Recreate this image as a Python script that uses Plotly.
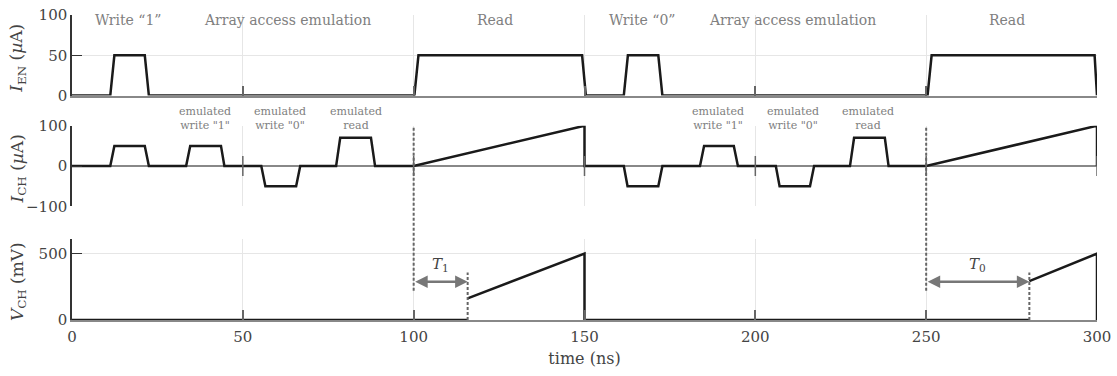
import plotly.graph_objects as go

# ---- waveform data (time in ns) ----
t_en = [0, 11.2, 12.4, 21.3, 22.5, 100.2, 101.4, 149.3, 150.4,
        161.5, 162.7, 171.6, 172.8, 250.4, 251.6, 299.3, 300]
i_en = [0, 0, 50, 50, 0, 0, 50, 50, 0,
        0, 50, 50, 0, 0, 50, 50, 0]

t_ch = [0, 11.2, 12.4, 21.3, 22.5, 33.4, 34.6, 43.6, 44.6,
        55.4, 56.6, 65.6, 66.8, 77.3, 78.5, 87.5, 88.7,
        100, 150, 150,
        161.5, 162.6, 171.6, 172.8, 183.8, 185, 193.7, 194.9,
        206, 207.1, 216, 217.2, 227.7, 228.9, 237.9, 239,
        250, 300, 300]
i_ch = [0, 0, 50, 50, 0, 0, 50, 50, 0,
        0, -50, -50, 0, 0, 70, 70, 0,
        0, 100, 0,
        0, -50, -50, 0, 0, 50, 50, 0,
        0, -50, -50, 0, 0, 70, 70, 0,
        0, 100, 0]

t_v = [0, 115.8, None, 115.8, 150, 150, 280.2, None, 280.2, 300, 300]
v_ch = [0, 0, None, 163, 500, 0, 0, None, 293, 500, 0]

# sense-time markers
t_start = [100, 250]
t_trip = [115.8, 280.2]
t_names = ["1", "0"]

# phase labels across the top panel
phase_x = [16.5, 63, 123.7, 167, 211, 273.8]
phase_txt = ["Write “1”", "Array access emulation", "Read",
             "Write “0”", "Array access emulation", "Read"]

# labels above the channel-current pulses
emu_x = [39, 61, 83, 189, 211, 233]
emu_txt = ['emulated<br>write "1"', 'emulated<br>write "0"', 'emulated<br>read'] * 2

x_ticks = [0, 50, 100, 150, 200, 250, 300]

FONT = "DejaVu Serif"
LINE = dict(color="#1a1a1a", width=2.5)
GRID = "#e6e6e6"
LABEL_GRAY = "#808080"

fig = go.Figure()
fig.add_trace(go.Scatter(x=t_en, y=i_en, mode="lines", line=LINE, xaxis="x", yaxis="y"))
fig.add_trace(go.Scatter(x=t_ch, y=i_ch, mode="lines", line=LINE, xaxis="x2", yaxis="y2"))
fig.add_trace(go.Scatter(x=t_v, y=v_ch, mode="lines", line=LINE, xaxis="x3", yaxis="y3",
                         connectgaps=False))

xcommon = dict(range=[0, 300], tickvals=x_ticks, showgrid=True, gridcolor=GRID,
               gridwidth=1, zeroline=False,
               tickfont=dict(family=FONT, size=15, color="#444"))
ycommon = dict(showgrid=True, gridcolor=GRID, gridwidth=1, showline=True,
               linecolor="#333", linewidth=1.5, ticks="inside", ticklen=10,
               tickcolor="#333", tickwidth=1.2,
               tickfont=dict(family=FONT, size=15, color="#444"))

fig.update_layout(
    width=1117, height=376,
    margin=dict(l=72, r=20, t=6, b=56),
    paper_bgcolor="white", plot_bgcolor="white",
    showlegend=False,
    xaxis=dict(**xcommon, anchor="y", showticklabels=False, showline=True,
               linecolor="#888", linewidth=1.5, ticks="inside", ticklen=10,
               tickcolor="#666", tickwidth=1.5),
    xaxis2=dict(**xcommon, anchor="y2", matches="x", showticklabels=False,
                showline=False, ticks=""),
    xaxis3=dict(**xcommon, anchor="y3", matches="x", showticklabels=True,
                showline=True, linecolor="#888", linewidth=1.5, ticks="inside",
                ticklen=10, tickcolor="#666", tickwidth=1.5,
                ticklabelstandoff=2,
                title=dict(text="time (ns)", standoff=8,
                           font=dict(family=FONT, size=16, color="#444"))),
    yaxis=dict(**ycommon, domain=[0.7357, 1.0], range=[0, 100],
               tickvals=[0, 50, 100], zeroline=False),
    yaxis2=dict(**ycommon, domain=[0.3726, 0.6369], range=[-100, 100],
                tickvals=[-100, 0, 100], zeroline=True, zerolinecolor="#888",
                zerolinewidth=1.5),
    yaxis3=dict(**ycommon, domain=[0.0, 0.2643], range=[0, 607],
                tickvals=[0, 500], zeroline=False),
)

shapes = []
# tick marks crossing the channel-current zero line
for xv in x_ticks[1:]:
    shapes.append(dict(type="line", xref="x2", yref="y2", x0=xv, x1=xv,
                       ysizemode="pixel", yanchor=0, y0=-10, y1=10,
                       line=dict(color="#666", width=1.5)))
# read-start markers spanning channel current and voltage panels
for xs in t_start:
    shapes.append(dict(type="line", xref="x3", yref="paper", x0=xs, x1=xs,
                       y0=0.0955, y1=0.6369,
                       line=dict(color="#666", width=2, dash="3px,2px")))
# threshold-crossing markers
for xt in t_trip:
    shapes.append(dict(type="line", xref="x3", yref="y3", x0=xt, x1=xt,
                       y0=0, y1=357,
                       line=dict(color="#666", width=2, dash="3px,2px")))
fig.update_layout(shapes=shapes)

ann = []
for xp, tx in zip(phase_x, phase_txt):
    ann.append(dict(x=xp, y=0.985, xref="x", yref="paper", text=tx, showarrow=False,
                    yanchor="middle",
                    font=dict(family=FONT, size=14, color=LABEL_GRAY)))
for xp, tx in zip(emu_x, emu_txt):
    ann.append(dict(x=xp, y=0.662, xref="x2", yref="paper", text=tx, showarrow=False,
                    yanchor="middle",
                    font=dict(family=FONT, size=11, color=LABEL_GRAY)))
for xs, xt, nm in zip(t_start, t_trip, t_names):
    ann.append(dict(x=xt, y=288, ax=xs, ay=288, xref="x3", yref="y3",
                    axref="x3", ayref="y3", text="", showarrow=True,
                    arrowside="end+start", arrowhead=2, arrowsize=1,
                    arrowwidth=2.5, arrowcolor="#777"))
    ann.append(dict(x=(xs + xt) / 2, y=420, xref="x3", yref="y3",
                    text="<i>T</i><sub>" + nm + "</sub>", showarrow=False,
                    font=dict(family=FONT, size=15, color="#444")))

# y-axis titles
ytitles = [("<i>I</i><sub>EN</sub> (<i>µ</i>A)", (376 - 56 - 51) / 314),
           ("<i>I</i><sub>CH</sub> (<i>µ</i>A)", (376 - 56 - 165) / 314),
           ("<i>V</i><sub>CH</sub> (mV)", (376 - 56 - 281) / 314)]
for txt, yp in ytitles:
    ann.append(dict(x=-54 / 1025, y=yp, xref="paper", yref="paper", text=txt,
                    textangle=-90, showarrow=False, xanchor="center",
                    yanchor="middle",
                    font=dict(family=FONT, size=17, color="#444")))
fig.update_layout(annotations=ann)

fig.write_html("out.html")
